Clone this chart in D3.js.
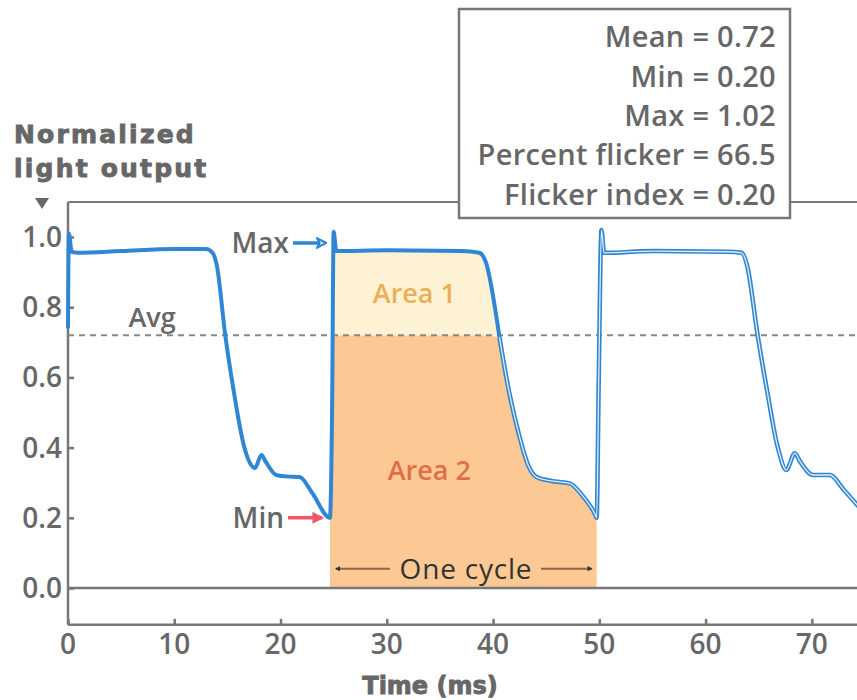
<!DOCTYPE html>
<html>
<head>
<meta charset="utf-8">
<script src="https://cdn.jsdelivr.net/npm/d3@7"></script>
<style>
  body { margin: 0; background: #fff; }
  svg { display: block; font-family: "Open Sans", "Noto Sans", sans-serif; }
</style>
</head>
<body>
<div id="chart"></div>
<script>
// Light output trace (time in ms, normalized output)
var traceTime = [0, 0.08, 0.35, 1, 5, 10, 13.0, 13.6, 14.0, 14.8, 15.6, 16.6, 17.6, 18.2, 18.6, 19.6, 20.5, 21.8, 23.0, 24.65,
                 24.85, 25.0, 25.25, 30, 37, 38.7, 39.3, 40.6, 41.5, 42.5, 43.3, 44.1, 45.5, 47.2, 48.5, 49.6,
                 49.75, 49.95, 50.2, 50.45, 55, 62, 63.4, 63.9, 64.9, 65.8, 66.8, 67.6, 68.4, 68.9, 70.1, 71.7, 73.0, 74.4];
var traceValue = [0.74, 1.01, 0.958, 0.955, 0.96, 0.966, 0.966, 0.955, 0.92, 0.72, 0.56, 0.40, 0.342, 0.379, 0.36, 0.322, 0.318, 0.316, 0.27, 0.20,
                  0.50, 1.015, 0.96, 0.962, 0.96, 0.955, 0.93, 0.715, 0.56, 0.43, 0.35, 0.316, 0.305, 0.298, 0.26, 0.21,
                  0.20, 0.60, 1.02, 0.955, 0.96, 0.958, 0.955, 0.92, 0.72, 0.56, 0.40, 0.336, 0.384, 0.36, 0.322, 0.322, 0.28, 0.232];

var avgValue = 0.72;
var cycleStart = 24.65, cycleEnd = 49.75;
var doubleLineFrom = 40.6;   // scanned trace looks outlined from here on

var yTicks = [0.0, 0.2, 0.4, 0.6, 0.8, 1.0];
var xTicks = [0, 10, 20, 30, 40, 50, 60, 70];
var statLines = ["Mean = 0.72", "Min = 0.20", "Max = 1.02", "Percent flicker = 66.5", "Flicker index = 0.20"];

var width = 857, height = 700;
var blue = "#2f86d4", grey = "#676767", axisGrey = "#777";
var heavyFont = "'DejaVu Sans', Verdana, sans-serif";

var svg = d3.select("#chart").append("svg")
    .attr("width", width)
    .attr("height", height);

var x = d3.scaleLinear().domain([0, 74.25]).range([68, 857]);
var y = d3.scaleLinear().domain([0, 1]).range([588, 237]);
var yTop = y(1.1), yBottom = y(-0.105);

var pts = traceTime.map(function (t, i) { return {t: t, v: traceValue[i]}; });
var cyclePts = pts.filter(function (d) { return d.t >= cycleStart && d.t <= cycleEnd; });

// Area 2: under the trace, capped at the average
svg.append("path")
    .datum(cyclePts)
    .attr("fill", "#fcc994")
    .attr("d", d3.area()
        .x(function (d) { return x(d.t); })
        .y0(y(0))
        .y1(function (d) { return y(Math.min(d.v, avgValue)); }));

// Area 1: trace above the average
svg.append("path")
    .datum(cyclePts)
    .attr("fill", "#fdf3d4")
    .attr("d", d3.area()
        .x(function (d) { return x(d.t); })
        .y0(y(avgValue))
        .y1(function (d) { return y(Math.max(d.v, avgValue)); }));

// frame: left, top and bottom lines
svg.append("line").attr("x1", x(0)).attr("x2", x(0)).attr("y1", yTop).attr("y2", yBottom)
    .attr("stroke", axisGrey).attr("stroke-width", 2.5);
svg.append("line").attr("x1", x(0)).attr("x2", width).attr("y1", yTop).attr("y2", yTop)
    .attr("stroke", axisGrey).attr("stroke-width", 2);
svg.append("line").attr("x1", x(0)).attr("x2", width).attr("y1", yBottom).attr("y2", yBottom)
    .attr("stroke", axisGrey).attr("stroke-width", 2.5);
// zero line
svg.append("line").attr("x1", x(0)).attr("x2", width).attr("y1", y(0)).attr("y2", y(0))
    .attr("stroke", axisGrey).attr("stroke-width", 2.5);

// y ticks + labels
var yAxis = svg.append("g").attr("transform", "translate(" + x(0) + ",0)")
    .call(d3.axisRight(y).tickValues(yTicks).tickSize(6).tickFormat(""));
yAxis.select(".domain").remove();
yAxis.selectAll(".tick line").attr("stroke", axisGrey).attr("stroke-width", 2.5);
svg.selectAll(".ylab").data(yTicks).enter().append("text")
    .attr("x", x(0) - 6)
    .attr("y", function (d) { return y(d); })
    .attr("dy", "0.36em")
    .attr("text-anchor", "end")
    .attr("fill", grey)
    .attr("font-size", 28)
    .attr("font-weight", 600)
    .text(function (d) { return d.toFixed(1); });

// x ticks + labels
var xAxis = svg.append("g").attr("transform", "translate(0," + yBottom + ")")
    .call(d3.axisTop(x).tickValues(xTicks).tickSize(6).tickFormat(""));
xAxis.select(".domain").remove();
xAxis.selectAll(".tick line").attr("stroke", axisGrey).attr("stroke-width", 2.5);
svg.selectAll(".xlab").data(xTicks).enter().append("text")
    .attr("x", function (d) { return x(d); })
    .attr("y", yBottom + 29)
    .attr("text-anchor", "middle")
    .attr("fill", grey)
    .attr("font-size", 28)
    .attr("font-weight", 600)
    .text(function (d) { return d; });

svg.append("text")
    .attr("x", 430).attr("y", 694)
    .attr("text-anchor", "middle")
    .attr("fill", grey).attr("stroke", grey).attr("stroke-width", 0.9)
    .attr("font-family", heavyFont)
    .attr("font-size", 24)
    .attr("font-weight", 700)
    .text("Time (ms)");

// y title
svg.append("text")
    .attr("x", 14).attr("y", 143)
    .attr("fill", grey).attr("stroke", grey).attr("stroke-width", 0.9)
    .attr("font-family", heavyFont)
    .attr("font-size", 25).attr("font-weight", 700)
    .attr("letter-spacing", 2.2)
    .selectAll("tspan").data(["Normalized", "light output"]).enter().append("tspan")
    .attr("x", 14)
    .attr("dy", function (d, i) { return i ? 34 : 0; })
    .text(function (d) { return d; });
svg.append("path")
    .attr("d", "M35,198 L49,198 L42,209 Z")
    .attr("fill", grey);

// average line
svg.append("line")
    .attr("x1", x(0)).attr("x2", width)
    .attr("y1", y(avgValue)).attr("y2", y(avgValue))
    .attr("stroke", "#888").attr("stroke-width", 2)
    .attr("stroke-dasharray", "6,5");
svg.append("text")
    .attr("x", 152).attr("y", y(avgValue) - 8)
    .attr("text-anchor", "middle")
    .attr("fill", grey).attr("font-size", 27).attr("font-weight", 600)
    .text("Avg");

// area labels
svg.append("text")
    .attr("x", x(32.6)).attr("y", y(0.84)).attr("dy", "0.36em")
    .attr("text-anchor", "middle")
    .attr("fill", "#eeae55").attr("font-size", 27).attr("font-weight", 600)
    .text("Area 1");
svg.append("text")
    .attr("x", x(34)).attr("y", y(0.335)).attr("dy", "0.36em")
    .attr("text-anchor", "middle")
    .attr("fill", "#df6f45").attr("font-size", 27).attr("font-weight", 600)
    .text("Area 2");

// trace
var line = d3.line()
    .x(function (d) { return x(d.t); })
    .y(function (d) { return y(d.v); })
    .curve(d3.curveMonotoneX);
var firstPart = pts.filter(function (d) { return d.t <= doubleLineFrom; });
var secondPart = pts.filter(function (d) { return d.t >= doubleLineFrom; });

svg.append("path").datum(firstPart)
    .attr("fill", "none").attr("stroke", blue).attr("stroke-width", 4)
    .attr("stroke-linejoin", "round").attr("d", line);
svg.append("path").datum(secondPart)
    .attr("fill", "none").attr("stroke", blue).attr("stroke-width", 4.5)
    .attr("stroke-linejoin", "round").attr("d", line);
svg.append("path").datum(secondPart)
    .attr("fill", "none").attr("stroke", "#e4ecf2").attr("stroke-width", 1.3)
    .attr("stroke-linejoin", "round").attr("d", line);

// arrow markers
var defs = svg.append("defs");
defs.append("marker").attr("id", "openBlue")
    .attr("viewBox", "0 0 10 10").attr("refX", 8).attr("refY", 5)
    .attr("markerWidth", 3.2).attr("markerHeight", 3.2).attr("orient", "auto")
    .append("path").attr("d", "M1,1 L9,5 L1,9 L3,5 Z")
    .attr("fill", "#fff").attr("stroke", blue).attr("stroke-width", 2);
defs.append("marker").attr("id", "redHead")
    .attr("viewBox", "0 0 10 10").attr("refX", 8).attr("refY", 5)
    .attr("markerWidth", 3.4).attr("markerHeight", 3.4).attr("orient", "auto")
    .append("path").attr("d", "M0,0 L10,5 L0,10 Z").attr("fill", "#f0566a");
defs.append("marker").attr("id", "darkHead")
    .attr("viewBox", "0 0 10 10").attr("refX", 8).attr("refY", 5)
    .attr("markerWidth", 2.6).attr("markerHeight", 2.6).attr("orient", "auto-start-reverse")
    .append("path").attr("d", "M0,0 L10,5 L0,10 Z").attr("fill", "#333");

// Max / Min annotations
svg.append("text")
    .attr("x", 289).attr("y", y(0.983)).attr("dy", "0.36em")
    .attr("text-anchor", "end")
    .attr("fill", grey).attr("font-size", 28).attr("font-weight", 600)
    .text("Max");
svg.append("line")
    .attr("x1", 293).attr("x2", x(24.2))
    .attr("y1", y(0.983)).attr("y2", y(0.983))
    .attr("stroke", blue).attr("stroke-width", 3.5)
    .attr("marker-end", "url(#openBlue)");
svg.append("text")
    .attr("x", 284).attr("y", y(0.2)).attr("dy", "0.36em")
    .attr("text-anchor", "end")
    .attr("fill", grey).attr("font-size", 28).attr("font-weight", 600)
    .text("Min");
svg.append("line")
    .attr("x1", 288).attr("x2", x(23.9))
    .attr("y1", y(0.2)).attr("y2", y(0.2))
    .attr("stroke", "#f0566a").attr("stroke-width", 3.5)
    .attr("marker-end", "url(#redHead)");

// one cycle arrow
var cy = y(0.055);
svg.append("line")
    .attr("x1", x(cycleStart) + 6).attr("x2", 390)
    .attr("y1", cy).attr("y2", cy)
    .attr("stroke", "#8a6a4a").attr("stroke-width", 2)
    .attr("marker-start", "url(#darkHead)");
svg.append("line")
    .attr("x1", 541).attr("x2", x(cycleEnd) - 5)
    .attr("y1", cy).attr("y2", cy)
    .attr("stroke", "#8a6a4a").attr("stroke-width", 2)
    .attr("marker-end", "url(#darkHead)");
svg.append("text")
    .attr("x", 466).attr("y", cy).attr("dy", "0.36em")
    .attr("text-anchor", "middle")
    .attr("fill", "#333").attr("font-size", 28).attr("font-weight", 400)
    .attr("letter-spacing", 0.8)
    .text("One cycle");

// stats box
svg.append("rect")
    .attr("x", 459).attr("y", 9).attr("width", 331).attr("height", 209)
    .attr("fill", "#fff").attr("stroke", axisGrey).attr("stroke-width", 2.5);
svg.selectAll(".stat").data(statLines).enter().append("text")
    .attr("x", 776)
    .attr("y", function (d, i) { return 37 + i * 39.3; })
    .attr("dy", "0.36em")
    .attr("text-anchor", "end")
    .attr("fill", grey).attr("font-size", 29).attr("font-weight", 600)
    .attr("letter-spacing", 0.3)
    .text(function (d) { return d; });
</script>
</body>
</html>
